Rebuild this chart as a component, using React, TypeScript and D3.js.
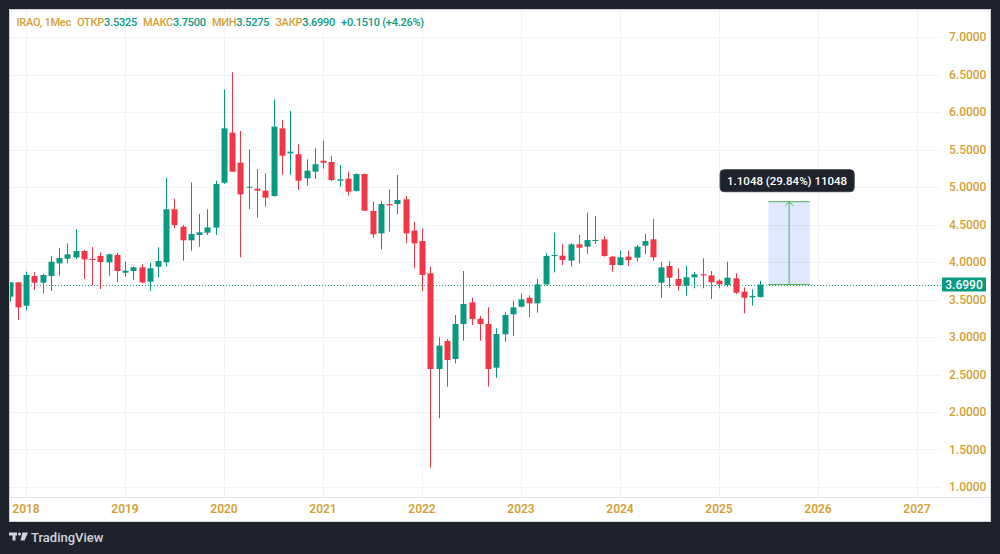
import * as d3 from 'd3';
import React, { useEffect, useRef } from 'react';

// --- Data (monthly candles, IRAO) ---
const months = [
    '2017-11', '2017-12',
    '2018-01', '2018-02', '2018-03', '2018-04', '2018-05', '2018-06', '2018-07', '2018-08', '2018-09', '2018-10', '2018-11', '2018-12',
    '2019-01', '2019-02', '2019-03', '2019-04', '2019-05', '2019-06', '2019-07', '2019-08', '2019-09', '2019-10', '2019-11', '2019-12',
    '2020-01', '2020-02', '2020-03', '2020-04', '2020-05', '2020-06', '2020-07', '2020-08', '2020-09', '2020-10', '2020-11', '2020-12',
    '2021-01', '2021-02', '2021-03', '2021-04', '2021-05', '2021-06', '2021-07', '2021-08', '2021-09', '2021-10', '2021-11', '2021-12',
    '2022-01', '2022-02', '2022-03', '2022-04', '2022-05', '2022-06', '2022-07', '2022-08', '2022-09', '2022-10', '2022-11', '2022-12',
    '2023-01', '2023-02', '2023-03', '2023-04', '2023-05', '2023-06', '2023-07', '2023-08', '2023-09', '2023-10', '2023-11', '2023-12',
    '2024-01', '2024-02', '2024-03', '2024-04', '2024-05', '2024-06', '2024-07', '2024-08', '2024-09', '2024-10', '2024-11', '2024-12',
    '2025-01', '2025-02', '2025-03', '2025-04', '2025-05', '2025-06',
];

const opens = [
    3.537, 3.729,
    3.417, 3.813, 3.724, 3.813, 3.982, 4.044, 4.062, 4.147, 4.040, 4.080, 3.996, 4.093,
    3.857, 3.880, 3.929, 3.737, 3.937, 3.996, 4.703, 4.471, 4.289, 4.360, 4.391, 4.458,
    5.057, 5.724, 5.324, 4.991, 4.977, 4.951, 4.880, 5.782, 5.449, 5.436, 5.116, 5.204,
    5.351, 5.333, 5.084, 5.111, 4.947, 5.173, 4.680, 4.382, 4.773, 4.773, 4.836, 4.418,
    4.280, 3.849, 2.573, 2.947, 2.707, 3.173, 3.462, 3.244, 3.173, 2.591, 3.036, 3.302,
    3.404, 3.524, 3.449, 3.702, 4.080, 4.084, 4.018, 4.236, 4.204, 4.280, 4.302, 4.071,
    3.960, 4.071, 4.058, 4.218, 4.302, 3.724, 3.947, 3.773, 3.684, 3.796, 3.836, 3.822,
    3.751, 3.693, 3.782, 3.604, 3.529, 3.5325,
];

const highs = [
    3.730, 3.730,
    3.871, 3.863, 3.840, 4.080, 4.187, 4.249, 4.440, 4.160, 4.200, 4.129, 4.111, 4.120,
    4.004, 3.937, 3.973, 3.991, 4.196, 5.124, 4.840, 4.493, 5.062, 4.640, 4.703, 5.084,
    6.302, 6.529, 5.747, 5.502, 5.240, 5.182, 6.169, 5.893, 6.013, 5.569, 5.369, 5.516,
    5.618, 5.413, 5.293, 5.204, 5.182, 5.180, 4.804, 4.813, 4.969, 5.160, 4.880, 4.537,
    4.449, 3.937, 2.996, 2.973, 3.293, 3.880, 3.524, 3.280, 3.396, 3.116, 3.337, 3.480,
    3.582, 3.556, 3.773, 4.116, 4.391, 4.236, 4.249, 4.360, 4.657, 4.613, 4.347, 4.080,
    4.151, 4.151, 4.227, 4.373, 4.573, 4.004, 4.013, 3.916, 3.951, 3.862, 4.049, 3.880,
    3.769, 4.004, 3.849, 3.662, 3.636, 3.7500,
];

const lows = [
    3.471, 3.227,
    3.351, 3.627, 3.583, 3.613, 3.817, 3.982, 4.040, 3.773, 3.684, 3.640, 3.817, 3.729,
    3.804, 3.760, 3.716, 3.613, 3.796, 3.937, 4.449, 4.017, 4.151, 4.204, 4.360, 4.360,
    5.040, 5.204, 4.062, 4.707, 4.591, 4.737, 4.871, 5.160, 5.160, 4.960, 5.018, 5.107,
    5.244, 5.080, 5.004, 4.884, 4.938, 4.684, 4.324, 4.169, 4.404, 4.636, 4.249, 3.916,
    3.613, 1.257, 1.916, 2.337, 2.649, 2.951, 3.160, 2.951, 2.337, 2.457, 2.937, 3.013,
    3.396, 3.262, 3.324, 3.693, 3.862, 3.960, 3.937, 3.982, 4.107, 4.240, 4.071, 3.871,
    3.951, 3.947, 4.004, 4.107, 4.018, 3.524, 3.657, 3.618, 3.551, 3.649, 3.649, 3.507,
    3.649, 3.671, 3.573, 3.316, 3.418, 3.5275,
];

const closes = [
    3.729, 3.396,
    3.827, 3.724, 3.827, 4.004, 4.053, 4.102, 4.147, 4.036, 4.031, 4.000, 4.102, 3.880,
    3.884, 3.929, 3.729, 3.916, 4.013, 4.703, 4.493, 4.289, 4.373, 4.396, 4.462, 5.040,
    5.782, 5.204, 4.902, 5.004, 4.951, 4.858, 5.804, 5.417, 5.471, 5.084, 5.218, 5.303,
    5.324, 5.093, 5.102, 4.938, 5.173, 4.684, 4.369, 4.773, 4.756, 4.827, 4.382, 4.249,
    3.827, 2.573, 2.884, 2.693, 3.173, 3.440, 3.240, 3.173, 2.573, 3.040, 3.293, 3.396,
    3.502, 3.449, 3.702, 4.080, 4.093, 4.027, 4.236, 4.191, 4.293, 4.293, 4.080, 3.960,
    4.062, 4.027, 4.204, 4.280, 4.062, 3.929, 3.791, 3.684, 3.796, 3.836, 3.822, 3.729,
    3.702, 3.791, 3.591, 3.524, 3.548, 3.6990,
];

const yearTicks = [2018, 2019, 2020, 2021, 2022, 2023, 2024, 2025, 2026, 2027];
const priceTicks = [1.0, 1.5, 2.0, 2.5, 3.0, 3.5, 4.0, 4.5, 5.0, 5.5, 6.0, 6.5, 7.0];

const symbol = 'IRAO, 1Мес';
// measure tool (price range drawing)
const measureStart = '2025-07';
const measureEnd = '2025-12';
const measureDiff = 1.1048;
const measurePct = 29.84;
const measureBars = '11048';

const UP = '#089981';
const DOWN = '#F23645';
const GOLD = '#d39f36';
const GRID = '#f0f3fa';
const BG = '#1e222d';

const monthIndex = (m: string) => {
    const [y, mo] = m.split('-').map(Number);
    return (y - 2018) * 12 + (mo - 1);
};

function CandleChart({ width = 1000, height = 554 }) {
    const svgRef = useRef<SVGSVGElement>(null);

    useEffect(() => {
        document.body.style.margin = '0';
        const svg = d3.select(svgRef.current);
        svg.selectAll('*').remove();

        const panel = { left: 9, top: 9, right: 990, bottom: 521 };
        const plot = { left: 10, top: 10, right: 941, bottom: 497 };

        const data = months.map((m, i) => ({
            i: monthIndex(m), open: opens[i], high: highs[i], low: lows[i], close: closes[i],
        }));

        // --- Scales ---
        const x = d3.scaleLinear().domain([0, 108]).range([26, 917]);
        const y = d3.scaleLinear().domain([1, 7]).range([487, 37]);
        const bodyW = 6;

        svg.append('rect').attr('width', width).attr('height', height).attr('fill', BG);
        svg.append('rect')
            .attr('x', panel.left + 0.5).attr('y', panel.top + 0.5)
            .attr('width', panel.right - panel.left).attr('height', panel.bottom - panel.top)
            .attr('fill', '#ffffff').attr('stroke', '#d1d4dc');

        svg.append('clipPath').attr('id', 'plot-clip')
            .append('rect')
            .attr('x', plot.left).attr('y', plot.top)
            .attr('width', plot.right - plot.left).attr('height', plot.bottom - plot.top);

        // --- Grid ---
        const grid = svg.append('g').attr('shape-rendering', 'crispEdges');
        grid.selectAll('.hgrid').data(priceTicks).join('line')
            .attr('x1', plot.left).attr('x2', plot.right)
            .attr('y1', d => Math.round(y(d)) + 0.5).attr('y2', d => Math.round(y(d)) + 0.5)
            .attr('stroke', GRID);
        grid.selectAll('.vgrid').data(yearTicks).join('line')
            .attr('x1', d => Math.round(x((d - 2018) * 12)) + 0.5).attr('x2', d => Math.round(x((d - 2018) * 12)) + 0.5)
            .attr('y1', plot.top).attr('y2', plot.bottom)
            .attr('stroke', GRID);
        grid.append('line')
            .attr('x1', panel.left).attr('x2', panel.right)
            .attr('y1', plot.bottom + 0.5).attr('y2', plot.bottom + 0.5)
            .attr('stroke', '#e0e3eb');

        // --- Axes labels ---
        svg.append('g').selectAll('text').data(priceTicks).join('text')
            .attr('x', 949).attr('y', d => y(d))
            .attr('dy', '0.35em')
            .attr('fill', GOLD)
            .style('font', '500 12px Roboto, sans-serif')
            .text(d => d3.format('.4f')(d));

        svg.append('g').selectAll('text').data(yearTicks).join('text')
            .attr('x', d => x((d - 2018) * 12)).attr('y', 513)
            .attr('text-anchor', 'middle')
            .attr('fill', GOLD)
            .style('font', '600 12px Roboto, sans-serif')
            .text(d => d);

        const last = data[data.length - 1];
        const prev = data[data.length - 2];

        // --- Last price dotted line ---
        svg.append('line')
            .attr('x1', plot.left).attr('x2', plot.right)
            .attr('y1', Math.round(y(last.close)) + 0.5).attr('y2', Math.round(y(last.close)) + 0.5)
            .attr('stroke', '#1aa58c').attr('stroke-dasharray', '1 2');

        // --- Measure tool ---
        const mx0 = x(monthIndex(measureStart));
        const mx1 = x(monthIndex(measureEnd));
        const myTop = y(last.close + measureDiff);
        const myBot = y(last.close);
        const mcx = (mx0 + mx1) / 2;
        const mg = svg.append('g');
        mg.append('rect')
            .attr('x', mx0).attr('y', myTop).attr('width', mx1 - mx0).attr('height', myBot - myTop)
            .attr('fill', 'rgba(41, 98, 255, 0.15)');
        mg.append('line').attr('x1', mx0).attr('x2', mx1).attr('y1', myTop).attr('y2', myTop)
            .attr('stroke', '#4caf50');
        mg.append('line').attr('x1', mx0).attr('x2', mx1).attr('y1', myBot).attr('y2', myBot)
            .attr('stroke', '#4caf50');
        mg.append('line').attr('x1', mcx).attr('x2', mcx).attr('y1', myTop).attr('y2', myBot)
            .attr('stroke', '#4caf50');
        mg.append('path')
            .attr('d', `M${mcx - 4},${myTop + 4}L${mcx},${myTop}L${mcx + 4},${myTop + 4}`)
            .attr('fill', 'none').attr('stroke', '#4caf50');

        const label = `${measureDiff.toFixed(4)} (${measurePct.toFixed(2)}%) ${measureBars}`;
        const boxG = mg.append('g');
        const box = boxG.append('rect')
            .attr('y', myTop - 32).attr('height', 22)
            .attr('rx', 4).attr('fill', '#1e222d').attr('stroke', '#3a3e4a');
        const lbl = boxG.append('text')
            .attr('x', mcx - 2).attr('y', myTop - 17)
            .attr('text-anchor', 'middle').attr('fill', '#ffffff')
            .style('font', '500 11.5px Roboto, sans-serif')
            .text(label);
        const tw = (lbl.node() as SVGTextElement).getComputedTextLength();
        box.attr('x', mcx - 2 - tw / 2 - 7).attr('width', tw + 14);

        // --- Candles ---
        const candles = svg.append('g').attr('clip-path', 'url(#plot-clip)')
            .selectAll('g').data(data).join('g')
            .attr('fill', d => d.close >= d.open ? UP : DOWN)
            .attr('stroke', d => d.close >= d.open ? UP : DOWN);
        candles.append('line')
            .attr('x1', d => Math.round(x(d.i)) + 0.5).attr('x2', d => Math.round(x(d.i)) + 0.5)
            .attr('y1', d => y(d.high)).attr('y2', d => y(d.low))
            .attr('stroke-width', 1);
        candles.append('rect')
            .attr('x', d => Math.round(x(d.i)) - bodyW / 2 + 0.5)
            .attr('y', d => y(Math.max(d.open, d.close)))
            .attr('width', bodyW)
            .attr('height', d => Math.max(1, Math.abs(y(d.open) - y(d.close))))
            .attr('stroke', 'none');

        // --- Price label ---
        svg.append('rect')
            .attr('x', 942).attr('y', y(last.close) - 7).attr('width', 44).attr('height', 14)
            .attr('rx', 1).attr('fill', UP);
        svg.append('text')
            .attr('x', 964).attr('y', y(last.close)).attr('dy', '0.36em')
            .attr('text-anchor', 'middle').attr('fill', '#ffffff')
            .style('font', '500 12px Roboto, sans-serif')
            .text(d3.format('.4f')(last.close));

        // --- Header legend ---
        const chg = last.close - prev.close;
        const f4 = d3.format('.4f');
        const parts = [
            { t: symbol, c: GOLD, dx: 0 },
            { t: 'ОТКР', c: GOLD, dx: 6 }, { t: f4(last.open), c: UP, dx: 0 },
            { t: 'МАКС', c: GOLD, dx: 6 }, { t: f4(last.high), c: UP, dx: 0 },
            { t: 'МИН', c: GOLD, dx: 6 }, { t: f4(last.low), c: UP, dx: 0 },
            { t: 'ЗАКР', c: GOLD, dx: 6 }, { t: f4(last.close), c: UP, dx: 0 },
            { t: `${chg >= 0 ? '+' : ''}${f4(chg)} (${chg >= 0 ? '+' : ''}${(chg / prev.close * 100).toFixed(2)}%)`, c: UP, dx: 6 },
        ];
        svg.append('text')
            .attr('x', 16.5).attr('y', 26)
            .style('font', '500 11px Roboto, sans-serif')
            .style('letter-spacing', '-0.25px')
            .selectAll('tspan').data(parts).join('tspan')
            .attr('dx', d => d.dx)
            .attr('fill', d => d.c)
            .text(d => d.t);

        // --- TradingView logo ---
        const logo = svg.append('g').attr('fill', '#d1d4dc');
        logo.append('path').attr('d', 'M9,532.5H17V535.5H15.5V540.5H12.5V535.5H9Z');
        logo.append('circle').attr('cx', 19.5).attr('cy', 534).attr('r', 1.6);
        logo.append('path').attr('d', 'M22.5,532.5H28L24.5,540.5H20.5Z');
        logo.append('text')
            .attr('x', 31).attr('y', 541.5)
            .style('font', '500 13px Roboto, sans-serif')
            .text('TradingView');
    }, [width, height]);

    return <svg ref={svgRef} width={width} height={height} style={{ display: 'block' }}></svg>;
}

export default function App() {
    return <CandleChart width={1000} height={554} />;
}
